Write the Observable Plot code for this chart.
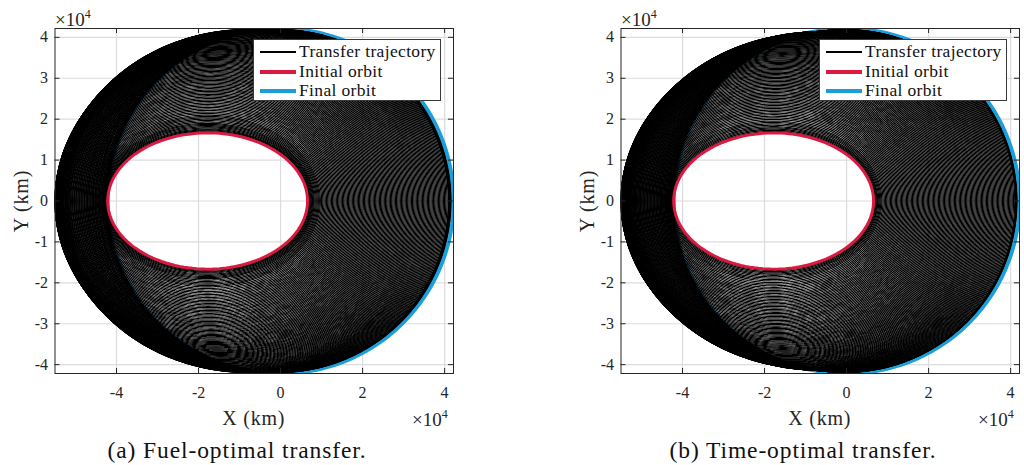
<!DOCTYPE html>
<html><head><meta charset="utf-8">
<script src="https://cdn.jsdelivr.net/npm/d3@7"></script>
<script src="https://cdn.jsdelivr.net/npm/@observablehq/plot@0.6"></script>
<style>
body{margin:0;background:#fff;width:1024px;height:465px;position:relative;overflow:hidden;font-family:"Liberation Serif",serif;color:#262626}
.panel{position:absolute;top:0;width:480px}
.panel svg{max-width:none !important}
.panel svg text{font-family:"Liberation Serif",serif !important}
.t{position:absolute;white-space:nowrap;line-height:1}
.c{transform:translate(-50%,-50%)}
.legend{position:absolute;background:#fff;border:1px solid #3a3a3a;box-sizing:border-box}
.sample{position:absolute}
.sup{font-size:12px;position:relative;top:-8px}
</style></head><body>
<script>
// axis ticks (km)
const xTicks = [-40000, -20000, 0, 20000, 40000];
const yTicks = [-40000, -30000, -20000, -10000, 0, 10000, 20000, 30000, 40000];
const xDomain = [-55000, 42164];
const yDomain = [-42164, 42164];

// orbits (km)
const initialPerigee = 6578;
const initialApogee = 42164;
const finalRadius = 42164;

// transfer trajectory, perigee / apogee radius of each revolution (10^3 km)
const fuelPerigee = [
  6.6, 6.75, 6.9, 7.05, 7.2, 7.4, 7.6, 7.8, 8.0, 8.2,
  8.45, 8.7, 8.95, 9.2, 9.45, 9.7, 10.0, 10.3, 10.6, 10.9,
  11.2, 11.5, 11.8, 12.1, 12.4, 12.7, 13.0, 13.3, 13.6, 13.9,
  14.2, 14.5, 14.8, 15.1, 15.4, 15.7, 16.0, 16.3, 16.6, 16.9,
  17.2, 17.5, 17.8, 18.1, 18.4, 18.7, 19.0, 19.3, 19.6, 19.9,
  20.2, 20.5, 20.8, 21.1, 21.4, 21.7, 22.0, 22.3, 22.6, 22.9,
  23.2, 23.5, 23.8, 24.1, 24.4, 24.7, 25.0, 25.3, 25.6, 25.9,
  26.2, 26.5, 26.8, 27.1, 27.4, 27.7, 28.0, 28.3, 28.6, 28.9,
  29.2, 29.5, 29.8, 30.1, 30.4, 30.7, 31.0, 31.3, 31.6, 31.9,
  32.2, 32.5, 32.8, 33.1, 33.4, 33.7, 34.0, 34.3, 34.6, 34.9,
  35.2, 35.5, 35.8, 36.1, 36.4, 36.7, 37.0, 37.3, 37.6, 37.9,
  38.2, 38.5, 38.8, 39.1, 39.4, 39.7, 40.0, 40.3, 40.6, 40.9,
  41.0, 41.15, 41.3, 41.4, 41.5, 41.55];
const fuelApogee = [
  42.2, 42.4, 42.6, 42.8, 43.0, 43.2, 43.4, 43.6, 43.8, 44.0,
  44.2, 44.45, 44.7, 44.95, 45.2, 45.45, 45.7, 45.95, 46.2, 46.45,
  46.7, 46.95, 47.2, 47.45, 47.7, 47.95, 48.2, 48.45, 48.7, 48.95,
  49.2, 49.45, 49.7, 49.95, 50.2, 50.45, 50.7, 50.95, 51.2, 51.4,
  51.6, 51.8, 52.0, 52.2, 52.4, 52.6, 52.8, 53.0, 53.2, 53.4,
  53.55, 53.7, 53.85, 54.0, 54.15, 54.3, 54.4, 54.5, 54.6, 54.7,
  54.8, 54.85, 54.9, 54.95, 55.0, 55.0, 55.0, 55.0, 55.0, 55.0,
  55.0, 55.0, 54.95, 54.9, 54.85, 54.8, 54.75, 54.7, 54.65, 54.6,
  54.5, 54.45, 54.4, 54.3, 54.2, 54.1, 54.0, 53.85, 53.7, 53.5,
  53.3, 53.05, 52.8, 52.5, 52.2, 51.9, 51.6, 51.15, 50.7, 50.25,
  49.85, 49.4, 49.0, 48.6, 48.2, 47.8, 47.4, 47.05, 46.7, 46.3,
  45.9, 45.6, 45.2, 44.9, 44.5, 44.2, 43.9, 43.5, 43.2, 42.9,
  42.8, 42.65, 42.5, 42.4, 42.3, 42.25];
const timePerigee = [
  6.6, 6.8, 7.0, 7.2, 7.4, 7.6, 7.85, 8.1, 8.35, 8.6,
  8.9, 9.2, 9.5, 9.8, 10.1, 10.4, 10.7, 11.0, 11.3, 11.6,
  11.9, 12.2, 12.5, 12.8, 13.1, 13.4, 13.7, 14.0, 14.3, 14.6,
  14.9, 15.2, 15.5, 15.8, 16.1, 16.4, 16.7, 17.0, 17.3, 17.6,
  17.9, 18.2, 18.5, 18.8, 19.1, 19.4, 19.7, 20.0, 20.3, 20.6,
  20.9, 21.2, 21.5, 21.8, 22.1, 22.4, 22.7, 23.0, 23.3, 23.6,
  23.9, 24.2, 24.5, 24.8, 25.1, 25.4, 25.7, 26.0, 26.3, 26.6,
  26.9, 27.2, 27.5, 27.8, 28.1, 28.4, 28.7, 29.0, 29.3, 29.6,
  29.9, 30.2, 30.5, 30.8, 31.1, 31.4, 31.7, 32.0, 32.3, 32.6,
  32.9, 33.2, 33.5, 33.8, 34.1, 34.4, 34.7, 35.0, 35.3, 35.6,
  35.9, 36.2, 36.5, 36.8, 37.1, 37.4, 37.7, 38.0, 38.3, 38.6,
  38.9, 39.2, 39.5, 39.8, 40.1, 40.4, 40.7, 41.0, 41.2, 41.35,
  41.45, 41.5, 41.55];
const timeApogee = [
  42.2, 42.45, 42.7, 42.95, 43.2, 43.45, 43.7, 43.95, 44.2, 44.45,
  44.7, 44.95, 45.2, 45.45, 45.7, 45.95, 46.2, 46.45, 46.7, 46.95,
  47.2, 47.45, 47.7, 47.95, 48.2, 48.45, 48.7, 48.95, 49.2, 49.45,
  49.7, 49.95, 50.2, 50.45, 50.7, 50.95, 51.2, 51.45, 51.7, 51.95,
  52.2, 52.4, 52.6, 52.8, 53.0, 53.2, 53.4, 53.6, 53.75, 53.9,
  54.05, 54.2, 54.35, 54.5, 54.6, 54.7, 54.8, 54.85, 54.9, 54.95,
  55.0, 55.0, 55.0, 55.0, 55.0, 55.0, 54.95, 54.9, 54.85, 54.8,
  54.75, 54.7, 54.6, 54.5, 54.4, 54.3, 54.2, 54.1, 54.0, 53.85,
  53.7, 53.5, 53.3, 53.1, 52.9, 52.65, 52.4, 52.1, 51.8, 51.5,
  51.2, 50.9, 50.6, 50.3, 49.95, 49.6, 49.25, 48.9, 48.55, 48.2,
  47.85, 47.5, 47.15, 46.8, 46.45, 46.1, 45.75, 45.45, 45.15, 44.85,
  44.55, 44.25, 43.95, 43.7, 43.45, 43.2, 42.95, 42.75, 42.55, 42.45,
  42.35, 42.3, 42.25];

const legendLabels = ["Transfer trajectory", "Initial orbit", "Final orbit"];
const captions = ["(a) Fuel-optimal transfer.", "(b) Time-optimal transfer."];
const colors = {traj: "#000000", init: "#dc1a41", fin: "#1b9fdc"};

// Kepler ellipse with focus at origin, periapsis on +x
function orbit(rp, ra, rev) {
  const a = (rp + ra) / 2, e = (ra - rp) / (ra + rp), p = a * (1 - e * e);
  const pts = [];
  for (let d = 0; d <= 360; d += 1.5) {
    const t = d * Math.PI / 180, r = p / (1 + e * Math.cos(t));
    pts.push({x: r * Math.cos(t), y: r * Math.sin(t), rev});
  }
  return pts;
}

const W = 480, H = 440, ML = 54.5, MR = 27, MT = 28, MB = 67;
const PW = W - ML - MR, PH = H - MT - MB;

function addText(html, x, y, cls, style) {
  const d = document.createElement("div");
  d.className = "t " + (cls || "");
  d.innerHTML = html;
  d.style.left = x + "px"; d.style.top = y + "px";
  Object.assign(d.style, style || {});
  document.body.appendChild(d);
  return d;
}

function panel(perigee, apogee, ox, idx) {
  const traj = perigee.flatMap((rp, i) => orbit(rp * 1000, apogee[i] * 1000, i));
  const init = orbit(initialPerigee, initialApogee, 0);
  const fin = orbit(finalRadius, finalRadius, 0);
  const font = {fontFamily: "Liberation Serif", fontSize: 16, fill: "#262626"};
  const svg = Plot.plot({
    width: W, height: H, marginLeft: ML, marginRight: MR, marginTop: MT, marginBottom: MB,
    x: {domain: xDomain}, y: {domain: yDomain},
    style: "font-family:'Liberation Serif',serif;font-size:16px;color:#262626;background:transparent;max-width:none;",
    marks: [
      Plot.gridX(xTicks, {stroke: "#dcdcdc", strokeOpacity: 1, strokeWidth: 1.2}),
      Plot.gridY(yTicks, {stroke: "#dcdcdc", strokeOpacity: 1, strokeWidth: 1.2}),
      Plot.line(fin, {x: "x", y: "y", stroke: colors.fin, strokeWidth: 4, clip: true}),
      Plot.line(traj, {x: "x", y: "y", z: "rev", stroke: colors.traj, strokeWidth: 1.2, clip: true}),
      Plot.line(init, {x: "x", y: "y", stroke: colors.init, strokeWidth: 3, clip: true}),
      Plot.frame({stroke: "#262626", strokeWidth: 1}),
      Plot.tickX(xTicks, {x: d => d, insetTop: PH - 5, stroke: "#262626"}),
      Plot.tickX(xTicks, {x: d => d, insetBottom: PH - 5, stroke: "#262626"}),
      Plot.tickY(yTicks, {y: d => d, insetRight: PW - 5, stroke: "#262626"}),
      Plot.tickY(yTicks, {y: d => d, insetLeft: PW - 5, stroke: "#262626"}),
      Plot.axisX(xTicks, {tickSize: 0, tickPadding: 13, tickFormat: d => `${d / 1e4}`, label: null, ...font}),
      Plot.axisY(yTicks, {tickSize: 0, tickPadding: 7, tickFormat: d => `${d / 1e4}`, label: null, ...font})
    ]
  });
  const wrap = document.createElement("div");
  wrap.className = "panel";
  wrap.style.left = ox + "px";
  wrap.appendChild(svg);
  document.body.appendChild(wrap);

  // legend
  const lg = document.createElement("div");
  lg.className = "legend";
  Object.assign(lg.style, {left: (ox + 253) + "px", top: "39px", width: "188px", height: "62px"});
  document.body.appendChild(lg);
  const rowsY = [52, 72, 91];
  const sw = [idx === 0 ? 1.2 : 2, 3.5, 3.5];
  const sc = [colors.traj, colors.init, colors.fin];
  legendLabels.forEach((lab, i) => {
    const s = document.createElement("div");
    s.className = "sample";
    Object.assign(s.style, {left: (ox + 260) + "px", top: (rowsY[i] - sw[i] / 2) + "px", width: "36px", height: sw[i] + "px", background: sc[i]});
    document.body.appendChild(s);
    addText(lab, ox + 299, rowsY[i] - 9, "", {fontSize: "17.5px", letterSpacing: "0.35px", color: "#111"});
  });

  addText("X (km)", ox + ML + PW / 2, 418, "c", {fontSize: "20px", letterSpacing: "0.8px"});
  addText("Y (km)", ox + 21, MT + PH / 2, "c", {fontSize: "20px", letterSpacing: "0.8px", transform: "translate(-50%,-50%) rotate(-90deg)"});
  addText("×10<span class='sup'>4</span>", ox + 55, 10, "", {fontSize: "19px"});
  addText("×10<span class='sup'>4</span>", ox + 412, 410, "", {fontSize: "19px"});
  addText(captions[idx], ox + 237, 451, "c", {fontSize: "23.5px", letterSpacing: "0.9px", color: "#111"});
}

panel(fuelPerigee, fuelApogee, 0, 0);
panel(timePerigee, timeApogee, 566, 1);
</script>
</body></html>
